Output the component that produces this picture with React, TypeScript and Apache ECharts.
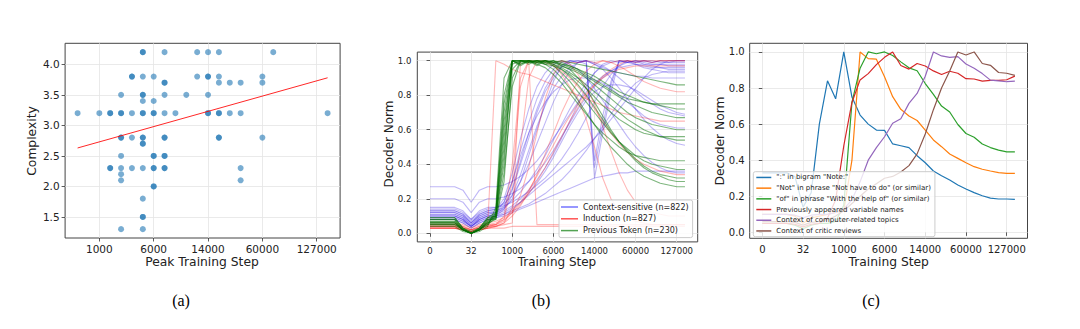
import React, { useEffect, useRef } from 'react';
import * as echarts from 'echarts';

const FONT = "'DejaVu Sans', Verdana, sans-serif";
const SERIF = "'Liberation Serif', 'Times New Roman', serif";

// ---------- Panel (a): complexity vs peak training step (x = checkpoint index) ----------
const peakTickIndex = [10, 15, 20, 25, 30];
const peakTickLabels = ['1000', '6000', '14000', '60000', '127000'];
const complexityTicks = [1.5, 2.0, 2.5, 3.0, 3.5, 4.0];

const complexityPoints: number[][] = [
  [14, 4.2], [14, 4.2], [16, 4.2], [19, 4.2], [20, 4.2], [21, 4.2], [26, 4.2],
  [13, 3.8], [13, 3.8], [14, 3.8], [15, 3.8], [19, 3.8], [20, 3.8], [20, 3.8], [21, 3.8], [25, 3.8],
  [16, 3.7], [16, 3.7], [21, 3.7], [22, 3.7], [23, 3.7], [25, 3.7],
  [12, 3.5], [14, 3.5], [14, 3.5], [16, 3.5], [18, 3.5], [20, 3.5],
  [14, 3.4], [15, 3.4],
  [8, 3.2], [10, 3.2], [11, 3.2], [11, 3.2], [12, 3.2], [12, 3.2], [13, 3.2], [14, 3.2], [14, 3.2],
  [15, 3.2], [15, 3.2], [16, 3.2], [17, 3.2], [20, 3.2], [20, 3.2], [21, 3.2], [21, 3.2], [22, 3.2], [23, 3.2], [31, 3.2],
  [12, 2.8], [12, 2.8], [13, 2.8], [14, 2.8], [14, 2.8], [16, 2.8], [16, 2.8], [21, 2.8], [21, 2.8], [25, 2.8],
  [14, 2.7], [14, 2.7],
  [12, 2.5], [15, 2.5], [15, 2.5], [16, 2.5], [16, 2.5],
  [11, 2.3], [11, 2.3], [12, 2.3], [13, 2.3], [14, 2.3], [15, 2.3], [15, 2.3], [16, 2.3], [16, 2.3], [23, 2.3],
  [12, 2.2],
  [12, 2.1], [23, 2.1],
  [15, 2.0], [15, 2.0],
  [14, 1.8],
  [14, 1.5], [14, 1.5],
  [12, 1.3], [14, 1.3],
];
const trendLine: number[][] = [[8, 2.63], [31, 3.78]];

// ---------- Panels (b) and (c): x = checkpoint index ----------
const stepTickIndex = [0, 5, 10, 15, 20, 25, 30];
const stepTickLabels = ['0', '32', '1000', '6000', '14000', '60000', '127000'];
const normTicks = [0, 0.2, 0.4, 0.6, 0.8, 1.0];

const contextSensitive: number[][] = [
  [0.12,0.12,0.12,0.12,0.10,0.06,0.10,0.12,0.12,0.14,0.20,0.30,0.45,0.60,0.75,0.88,0.97,1.00,0.99,1.00,0.98,0.96,0.94,0.93,0.92,0.91,0.91,0.90,0.90,0.90,0.90,0.90],
  [0.10,0.10,0.10,0.10,0.08,0.04,0.08,0.10,0.11,0.15,0.25,0.40,0.55,0.70,0.82,0.90,0.96,0.99,1.00,1.00,0.42,0.68,0.88,1.00,0.99,1.00,0.99,0.98,0.98,0.97,0.97,0.97],
  [0.13,0.13,0.13,0.13,0.11,0.07,0.11,0.13,0.14,0.18,0.30,0.48,0.64,0.78,0.88,0.95,0.99,1.00,0.99,1.00,0.32,0.58,0.82,1.00,1.00,0.99,1.00,1.00,0.99,0.99,0.99,0.99],
  [0.09,0.09,0.09,0.09,0.07,0.04,0.07,0.09,0.10,0.12,0.15,0.18,0.22,0.26,0.30,0.34,0.38,0.42,0.46,0.50,0.55,0.60,0.66,0.72,0.78,0.84,0.90,0.95,0.98,1.00,1.00,1.00],
  [0.14,0.14,0.14,0.14,0.12,0.08,0.12,0.14,0.15,0.17,0.22,0.30,0.40,0.52,0.64,0.76,0.86,0.94,0.99,1.00,0.99,0.97,0.94,0.90,0.86,0.82,0.78,0.75,0.72,0.70,0.69,0.68],
  [0.08,0.08,0.08,0.08,0.06,0.03,0.06,0.08,0.09,0.10,0.12,0.14,0.16,0.18,0.20,0.22,0.24,0.26,0.28,0.30,0.32,0.33,0.34,0.35,0.35,0.36,0.36,0.36,0.36,0.36,0.36,0.36],
  [0.11,0.11,0.11,0.11,0.09,0.05,0.09,0.11,0.12,0.18,0.30,0.45,0.58,0.68,0.76,0.82,0.86,0.89,0.90,0.90,0.89,0.87,0.84,0.80,0.76,0.72,0.68,0.65,0.63,0.62,0.61,0.61],
  [0.10,0.10,0.10,0.10,0.08,0.04,0.08,0.10,0.11,0.13,0.16,0.20,0.25,0.31,0.38,0.46,0.55,0.65,0.75,0.85,0.93,0.98,1.00,0.99,1.00,0.98,0.97,0.96,0.96,0.96,0.96,0.96],
  [0.15,0.15,0.15,0.15,0.13,0.08,0.13,0.15,0.15,0.16,0.18,0.21,0.24,0.28,0.32,0.37,0.43,0.50,0.58,0.67,0.76,0.85,0.92,0.97,1.00,0.99,1.00,0.99,1.00,0.99,1.00,1.00],
  [0.09,0.09,0.09,0.09,0.07,0.04,0.07,0.09,0.10,0.14,0.22,0.34,0.48,0.62,0.74,0.84,0.91,0.96,0.99,1.00,0.98,0.95,0.90,0.84,0.78,0.72,0.66,0.61,0.57,0.54,0.52,0.51],
  [0.12,0.12,0.12,0.12,0.10,0.06,0.10,0.12,0.13,0.15,0.19,0.24,0.30,0.37,0.45,0.54,0.63,0.72,0.80,0.87,0.93,0.97,0.99,1.00,0.99,0.98,0.96,0.95,0.94,0.93,0.93,0.93],
  [0.11,0.11,0.11,0.11,0.09,0.05,0.09,0.11,0.12,0.16,0.26,0.42,0.58,0.72,0.84,0.92,0.97,1.00,1.00,0.98,0.38,0.62,0.86,1.00,0.99,1.00,1.00,0.99,1.00,1.00,1.00,1.00],
  [0.20,0.20,0.20,0.20,0.18,0.12,0.18,0.20,0.20,0.21,0.23,0.26,0.30,0.35,0.41,0.48,0.56,0.64,0.72,0.79,0.85,0.90,0.94,0.97,0.99,1.00,0.98,0.97,0.96,0.95,0.95,0.95],
  [0.10,0.10,0.10,0.10,0.08,0.04,0.08,0.10,0.10,0.11,0.13,0.15,0.17,0.20,0.23,0.27,0.31,0.36,0.42,0.48,0.55,0.62,0.69,0.76,0.82,0.87,0.90,0.92,0.93,0.94,0.94,0.94],
  [0.13,0.13,0.13,0.13,0.11,0.06,0.11,0.13,0.14,0.20,0.35,0.55,0.72,0.85,0.93,0.98,1.00,0.98,0.95,0.90,0.84,0.77,0.70,0.63,0.56,0.50,0.45,0.41,0.38,0.36,0.35,0.35],
  [0.08,0.08,0.08,0.08,0.06,0.03,0.06,0.08,0.09,0.11,0.14,0.18,0.23,0.29,0.36,0.44,0.53,0.62,0.70,0.77,0.82,0.85,0.86,0.86,0.85,0.83,0.80,0.77,0.74,0.72,0.70,0.69],
  [0.27,0.27,0.27,0.27,0.25,0.18,0.25,0.27,0.27,0.28,0.30,0.33,0.37,0.42,0.48,0.55,0.62,0.69,0.76,0.82,0.87,0.91,0.94,0.96,0.97,0.98,0.98,0.98,0.98,0.98,0.98,0.98],
];

const induction: number[][] = [
  [0.04,0.04,0.04,0.04,0.03,0.01,0.03,0.04,0.04,0.05,0.06,1.00,1.00,0.05,0.05,0.05,0.05,0.05,0.05,0.05,0.05,0.05,0.05,0.05,0.05,0.05,0.05,0.05,0.05,0.05,0.05,0.05],
  [0.03,0.03,0.03,0.03,0.02,0.01,0.02,0.03,0.04,0.06,0.15,0.50,0.90,1.00,1.00,0.98,0.92,0.85,0.78,0.66,0.50,0.32,0.20,0.13,0.09,0.07,0.06,0.05,0.05,0.05,0.05,0.05],
  [0.05,0.05,0.05,0.05,0.04,0.02,0.04,0.05,0.05,0.08,0.30,0.85,1.00,0.99,1.00,0.99,1.00,0.99,0.99,1.00,0.99,1.00,0.99,1.00,1.00,1.00,1.00,1.00,1.00,1.00,1.00,1.00],
  [0.03,0.03,0.03,0.03,0.02,0.01,0.02,0.03,1.00,0.98,0.95,0.93,0.92,0.90,0.88,0.86,0.84,0.82,0.80,0.78,0.76,0.74,0.72,0.70,0.69,0.68,0.67,0.66,0.65,0.65,0.65,0.65],
  [0.03,0.03,0.03,0.03,0.02,0.01,0.02,0.03,0.03,0.03,0.04,0.04,0.04,0.04,0.04,0.04,0.04,0.04,0.04,0.04,0.04,0.04,0.04,0.04,0.04,0.04,0.04,0.04,0.04,0.04,0.04,0.04],
  [0.05,0.05,0.05,0.05,0.04,0.02,0.04,0.05,0.06,0.08,0.12,0.17,0.23,0.30,0.38,0.47,0.56,0.65,0.73,0.80,0.86,0.91,0.95,0.98,1.00,0.99,1.00,0.99,1.00,1.00,1.00,1.00],
  [0.04,0.04,0.04,0.04,0.03,0.02,0.03,0.04,0.05,0.10,0.40,0.90,1.00,1.00,0.99,0.97,0.94,0.90,0.85,0.79,0.72,0.65,0.58,0.52,0.47,0.43,0.40,0.38,0.36,0.35,0.34,0.34],
  [0.06,0.06,0.06,0.06,0.05,0.03,0.05,0.06,0.07,0.09,0.13,0.18,0.25,0.33,0.42,0.51,0.60,0.68,0.75,0.81,0.86,0.90,0.93,0.95,0.96,0.97,0.97,0.97,0.97,0.97,0.97,0.97],
  [0.04,0.04,0.04,0.04,0.03,0.02,0.03,0.04,0.05,0.07,0.12,0.22,0.38,0.58,0.78,0.92,1.00,0.98,0.92,0.84,0.75,0.62,0.48,0.35,0.25,0.18,0.14,0.12,0.11,0.10,0.10,0.10],
  [0.03,0.03,0.03,0.03,0.02,0.01,0.02,0.03,0.04,0.06,0.10,0.16,0.24,0.34,0.46,0.58,0.70,0.80,0.88,0.94,0.98,1.00,0.99,0.97,0.94,0.91,0.88,0.86,0.84,0.83,0.82,0.82],
];

const previousToken: number[][] = [
  [0.06,0.06,0.06,0.06,0.02,0.00,0.02,0.06,0.10,0.60,1.00,0.98,1.00,0.97,1.00,0.98,0.96,0.93,0.90,0.86,0.82,0.78,0.74,0.70,0.66,0.63,0.60,0.58,0.56,0.55,0.54,0.54],
  [0.08,0.08,0.08,0.08,0.03,0.00,0.03,0.08,0.08,0.30,0.90,1.00,0.99,1.00,0.98,1.00,0.97,0.95,0.90,0.84,0.76,0.68,0.60,0.53,0.47,0.42,0.38,0.35,0.33,0.31,0.30,0.30],
  [0.05,0.05,0.05,0.05,0.02,0.00,0.02,0.05,0.12,0.80,1.00,1.00,0.99,1.00,1.00,0.99,1.00,0.99,0.98,0.97,0.96,0.95,0.94,0.93,0.92,0.91,0.90,0.89,0.88,0.87,0.86,0.86],
  [0.07,0.07,0.07,0.07,0.02,0.00,0.02,0.07,0.09,0.50,0.95,1.00,1.00,0.98,1.00,0.97,0.93,0.88,0.82,0.76,0.70,0.64,0.58,0.53,0.49,0.45,0.42,0.40,0.39,0.38,0.37,0.37],
  [0.09,0.09,0.09,0.09,0.03,0.01,0.03,0.09,0.10,0.40,1.00,1.00,0.98,1.00,0.99,1.00,0.98,0.96,0.94,0.91,0.88,0.85,0.82,0.79,0.76,0.74,0.72,0.70,0.69,0.68,0.67,0.67],
  [0.04,0.04,0.04,0.04,0.01,0.00,0.01,0.04,0.15,0.90,1.00,0.97,1.00,1.00,0.98,0.95,0.90,0.84,0.77,0.70,0.63,0.56,0.50,0.45,0.40,0.36,0.33,0.31,0.29,0.28,0.27,0.27],
  [0.06,0.06,0.06,0.06,0.02,0.00,0.02,0.06,0.08,0.35,0.85,1.00,1.00,0.99,1.00,1.00,0.99,0.97,0.95,0.92,0.89,0.86,0.83,0.80,0.78,0.77,0.76,0.75,0.75,0.75,0.75,0.75],
  [0.08,0.08,0.08,0.08,0.02,0.00,0.02,0.08,0.10,0.70,1.00,0.99,1.00,0.98,0.96,0.92,0.87,0.81,0.75,0.69,0.63,0.58,0.54,0.50,0.47,0.45,0.44,0.43,0.42,0.42,0.42,0.42],
  [0.05,0.05,0.05,0.05,0.02,0.00,0.02,0.05,0.09,0.45,1.00,1.00,1.00,0.99,0.98,0.97,0.95,0.92,0.88,0.84,0.79,0.74,0.70,0.66,0.63,0.60,0.58,0.57,0.56,0.56,0.56,0.56],
  [0.07,0.07,0.07,0.07,0.02,0.00,0.02,0.07,0.11,0.65,0.98,1.00,0.99,1.00,1.00,0.99,0.97,0.95,0.93,0.90,0.86,0.82,0.78,0.74,0.70,0.67,0.65,0.63,0.62,0.61,0.60,0.60],
  [0.06,0.06,0.06,0.06,0.02,0.00,0.02,0.06,0.10,0.55,1.00,0.98,1.00,1.00,0.99,0.98,0.95,0.91,0.86,0.80,0.73,0.66,0.59,0.53,0.48,0.43,0.39,0.36,0.34,0.33,0.32,0.32],
  [0.09,0.09,0.09,0.09,0.03,0.00,0.03,0.09,0.12,0.75,1.00,1.00,1.00,0.99,1.00,0.99,0.98,0.97,0.95,0.93,0.91,0.88,0.85,0.82,0.80,0.78,0.76,0.75,0.74,0.73,0.72,0.72],
];

const featureNames = [
  '":" in bigram "Note:"',
  '"Not" in phrase "Not have to do" (or similar)',
  '"of" in phrase "With the help of" (or similar)',
  'Previously appeared variable names',
  'Context of computer-related topics',
  'Context of critic reviews',
];
const featureColors = ['#1f77b4', '#ff7f0e', '#2ca02c', '#d62728', '#9467bd', '#8c564b'];

const noteColon = [0.33,0.33,0.33,0.33,0.31,0.14,0.22,0.60,0.84,0.74,1.00,0.75,0.65,0.60,0.567,0.565,0.49,0.48,0.47,0.425,0.386,0.34,0.314,0.29,0.262,0.24,0.22,0.203,0.19,0.185,0.185,0.183];
const notPhrase = [0.10,0.10,0.10,0.10,0.09,0.05,0.08,0.09,0.10,0.11,0.12,0.40,1.00,0.963,0.96,0.863,0.752,0.682,0.645,0.62,0.567,0.512,0.475,0.434,0.41,0.386,0.364,0.35,0.34,0.331,0.327,0.327];
const helpOfPhrase = [0.05,0.05,0.05,0.05,0.04,0.02,0.04,0.05,0.05,0.06,0.15,0.72,0.91,1.00,0.99,1.00,0.98,0.945,0.912,0.896,0.825,0.765,0.70,0.667,0.598,0.548,0.527,0.49,0.47,0.456,0.446,0.446];
const prevVarNames = [0.05,0.05,0.05,0.05,0.045,0.03,0.045,0.05,0.08,0.18,0.48,0.72,0.845,0.88,0.93,0.97,1.00,0.925,0.905,0.936,0.922,0.895,0.875,0.893,0.882,0.852,0.85,0.838,0.843,0.843,0.846,0.866];
const computerTopics = [0.10,0.10,0.10,0.10,0.095,0.08,0.095,0.10,0.10,0.11,0.13,0.18,0.28,0.40,0.47,0.53,0.605,0.63,0.715,0.77,0.865,1.00,0.978,0.97,0.974,0.933,0.91,0.88,0.844,0.84,0.835,0.838];
const criticReviews = [0.06,0.06,0.06,0.06,0.055,0.04,0.055,0.06,0.07,0.09,0.12,0.16,0.20,0.24,0.27,0.30,0.31,0.335,0.37,0.435,0.545,0.68,0.80,0.895,1.00,0.983,1.00,0.936,0.926,0.886,0.882,0.87];
const featureSeries = [noteColon, notPhrase, helpOfPhrase, prevVarNames, computerTopics, criticReviews];

const groupNames = ['Context-sensitive (n=822)', 'Induction (n=827)', 'Previous Token (n=230)'];
const groupColors = ['#2a10e0', '#ff1010', '#007000'];
const groupLegendColors = ['rgba(70,70,255,0.75)', 'rgba(255,40,40,0.8)', 'rgba(40,140,40,0.8)'];
const groupOpacity = [0.3, 0.3, 0.5];
const groupData = [contextSensitive, induction, previousToken];

function labelFrom(ticks: number[], labels: string[]) {
  return (v: number) => {
    const k = ticks.findIndex((t) => Math.abs(t - v) < 1e-6);
    return k >= 0 ? labels[k] : '';
  };
}

function axis(gridIndex: number, min: number, max: number, ticks: number[], fmt: any, fontSize: number, margin: number) {
  return {
    type: 'value',
    gridIndex,
    min,
    max,
    axisLine: { show: false },
    axisTick: { show: true, customValues: ticks, length: 3.5, lineStyle: { color: '#333', width: 0.8 } },
    axisLabel: { show: true, customValues: ticks, formatter: fmt, fontSize, fontFamily: FONT, color: '#222', margin },
    splitLine: { show: true, lineStyle: { color: '#e4e4e4', width: 0.8 } },
  };
}

function buildOption() {
  const series: any[] = [];
  series.push({
    type: 'scatter',
    name: 'points',
    xAxisIndex: 0,
    yAxisIndex: 0,
    data: complexityPoints,
    symbolSize: 6,
    itemStyle: { color: '#1f77b4', opacity: 0.6 },
    silent: true,
  });
  series.push({
    type: 'line',
    name: 'trend',
    xAxisIndex: 0,
    yAxisIndex: 0,
    data: trendLine,
    symbol: 'none',
    lineStyle: { color: '#ff0000', width: 1, opacity: 0.85 },
    silent: true,
  });
  groupData.forEach((lines, g) => {
    lines.forEach((vals) => {
      series.push({
        type: 'line',
        name: groupNames[g],
        xAxisIndex: 1,
        yAxisIndex: 1,
        data: vals.map((v, i) => [i, v]),
        symbol: 'none',
        lineStyle: { color: groupColors[g], width: 1.1, opacity: groupOpacity[g] },
        itemStyle: { color: groupColors[g] },
        silent: true,
      });
    });
  });
  featureSeries.forEach((vals, k) => {
    series.push({
      type: 'line',
      name: featureNames[k],
      xAxisIndex: 2,
      yAxisIndex: 2,
      data: vals.map((v, i) => [i, v]),
      symbol: 'none',
      lineStyle: { color: featureColors[k], width: 1.2 },
      itemStyle: { color: featureColors[k] },
      silent: true,
    });
  });

  const stepFmt = labelFrom(stepTickIndex, stepTickLabels);
  const peakFmt = labelFrom(peakTickIndex, peakTickLabels);
  const dec = (v: number) => v.toFixed(1);
  const gridStyle = { show: true, borderColor: '#444', borderWidth: 1, backgroundColor: 'transparent' };

  const txt = (text: string, x: number, y: number, size: number, rot = 0, family = FONT, fill = '#222') => ({
    type: 'text',
    x,
    y,
    rotation: rot,
    style: { text, fontSize: size, fontFamily: family, fill, align: 'center', verticalAlign: 'middle' },
    silent: true,
  });

  return {
    animation: false,
    backgroundColor: '#ffffff',
    grid: [
      { left: 65.1, top: 43.3, width: 275, height: 194.7, ...gridStyle },
      { left: 417.3, top: 52.1, width: 280.4, height: 189.8, ...gridStyle },
      { left: 749.7, top: 43.3, width: 277.8, height: 195, ...gridStyle },
    ],
    xAxis: [
      axis(0, 6.85, 32.15, peakTickIndex, peakFmt, 10.5, 5),
      axis(1, -1.55, 32.55, stepTickIndex, stepFmt, 8.5, 4.5),
      axis(2, -1.55, 32.55, stepTickIndex, stepFmt, 10, 6),
    ],
    yAxis: [
      axis(0, 1.155, 4.345, complexityTicks, dec, 10.5, 5.5),
      axis(1, -0.05, 1.05, normTicks, dec, 8.5, 6),
      axis(2, -0.033, 1.048, normTicks, dec, 10, 5),
    ],
    legend: [
      {
        orient: 'vertical',
        left: 559,
        top: 200,
        padding: [2, 4, 2, 2],
        itemGap: 1.8,
        itemWidth: 17,
        itemHeight: 1.5,
        icon: 'rect',
        backgroundColor: 'rgba(255,255,255,0.85)',
        borderColor: '#cccccc',
        borderWidth: 1,
        borderRadius: 2,
        selectedMode: false,
        textStyle: { fontSize: 8, fontFamily: FONT, color: '#222', lineHeight: 10 },
        data: groupNames.map((n, g) => ({ name: n, itemStyle: { color: groupLegendColors[g] } })),
      },
      {
        orient: 'vertical',
        left: 753.3,
        top: 171.7,
        padding: [1, 4, 1, 3],
        itemGap: 1.2,
        itemWidth: 15,
        itemHeight: 1.5,
        icon: 'rect',
        backgroundColor: 'rgba(255,255,255,0.8)',
        borderColor: '#cccccc',
        borderWidth: 1,
        borderRadius: 2,
        selectedMode: false,
        textStyle: { fontSize: 7, fontFamily: FONT, color: '#222', lineHeight: 9.5 },
        data: featureNames.map((n, k) => ({ name: n, itemStyle: { color: featureColors[k] } })),
      },
    ],
    graphic: [
      txt('Complexity', 31.7, 141, 12.3, Math.PI / 2),
      txt('Peak Training Step', 202, 262, 12.3),
      txt('Decoder Norm', 389, 144, 12, Math.PI / 2),
      txt('Training Step', 557, 262, 12),
      txt('Decoder Norm', 720, 141, 12.3, Math.PI / 2),
      txt('Training Step', 888.7, 262, 12.3),
      txt('(a)', 181, 300, 16, 0, SERIF, '#000'),
      txt('(b)', 541, 300, 16, 0, SERIF, '#000'),
      txt('(c)', 871, 300, 16, 0, SERIF, '#000'),
    ],
    series,
  };
}

export default function App() {
  const ref = useRef<HTMLDivElement>(null);
  useEffect(() => {
    if (!ref.current) return;
    const chart = echarts.init(ref.current, null, { renderer: 'svg' });
    chart.setOption(buildOption() as any);
    return () => chart.dispose();
  }, []);
  return (
    <div
      ref={ref}
      style={{ position: 'fixed', left: 0, top: 0, width: 1080, height: 329, background: '#ffffff' }}
    />
  );
}
